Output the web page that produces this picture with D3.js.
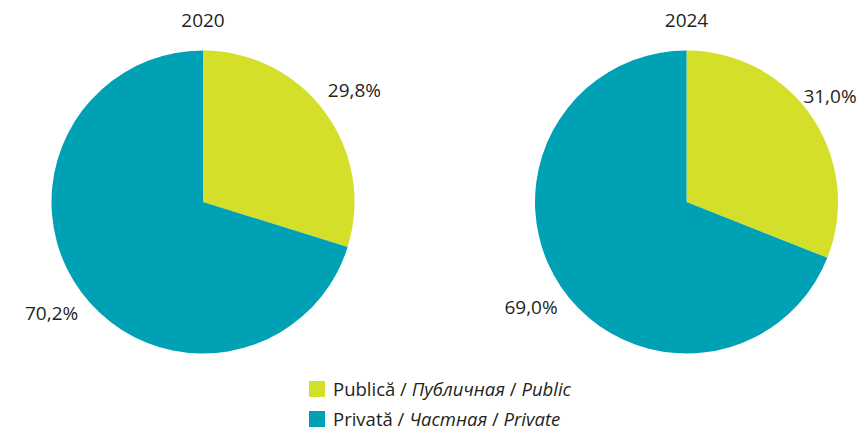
<!DOCTYPE html>
<html lang="en">
<head>
<meta charset="utf-8">
<title>Public vs Private pies</title>
<script src="https://cdn.jsdelivr.net/npm/d3@7"></script>
<style>
  body { margin: 0; background: #fff; }
  text { font-family: "Open Sans", "Noto Sans", sans-serif; fill: #231f20; }
</style>
</head>
<body>
<script>
// data
var years = ["2020", "2024"];
var categories = ["Publică", "Privată"];
var publicShare = [29.8, 31.0];
var privateShare = [70.2, 69.0];
var legendLabels = [
  ["Publică / ", "Публичная", "Public"],
  ["Privată / ", "Частная ", "Private"]
];

var W = 862, H = 431;
var svg = d3.select("body").append("svg")
  .attr("width", W).attr("height", H);

var color = d3.scaleOrdinal().domain(categories).range(["#d4df29", "#00a0b5"]);
var cx = d3.scalePoint().domain(years).range([203, 686.5]);
var r = 151.5, cy = 202, labelR = 188;

var pie = d3.pie().sort(null).value(function(d) { return d.v; });
var arc = d3.arc().innerRadius(0).outerRadius(r);
var labelArc = d3.arc().innerRadius(labelR).outerRadius(labelR);
var fmt = function(v) { return v.toFixed(1).replace(".", ",") + "%"; };

years.forEach(function(y, i) {
  var data = [
    { k: categories[0], v: publicShare[i] },
    { k: categories[1], v: privateShare[i] }
  ];
  var x0 = cx(y);
  var g = svg.append("g").attr("transform", "translate(" + x0 + "," + cy + ")");
  var arcs = pie(data);
  g.selectAll("path").data(arcs).enter().append("path")
    .attr("d", arc)
    .attr("fill", function(d) { return color(d.data.k); });
  g.selectAll("text.lbl").data(arcs).enter().append("text")
    .attr("class", "lbl")
    .attr("transform", function(d) {
      var c = labelArc.centroid(d);
      // keep labels inside the page
      var px = Math.max(34 - x0, Math.min(W - 32 - x0, c[0]));
      return "translate(" + px + "," + c[1] + ")";
    })
    .attr("text-anchor", "middle")
    .attr("dy", "0.35em")
    .style("font-size", "19px")
    .text(function(d) { return fmt(d.data.v); });
  svg.append("text")
    .attr("x", x0).attr("y", 27)
    .attr("text-anchor", "middle")
    .style("font-size", "19px")
    .text(y);
});

// legend
var leg = svg.append("g").attr("transform", "translate(309,381)");
categories.forEach(function(c, i) {
  var row = leg.append("g").attr("transform", "translate(0," + (i * 30) + ")");
  row.append("rect").attr("width", 16).attr("height", 16).attr("fill", color(c));
  var t = row.append("text").attr("x", 24).attr("y", 14.5).style("font-size", "18.5px");
  t.append("tspan").text(legendLabels[i][0]);
  t.append("tspan").style("font-style", "italic").text(legendLabels[i][1]);
  t.append("tspan").text(" / ");
  t.append("tspan").style("font-style", "italic").text(legendLabels[i][2]);
});
</script>
</body>
</html>
